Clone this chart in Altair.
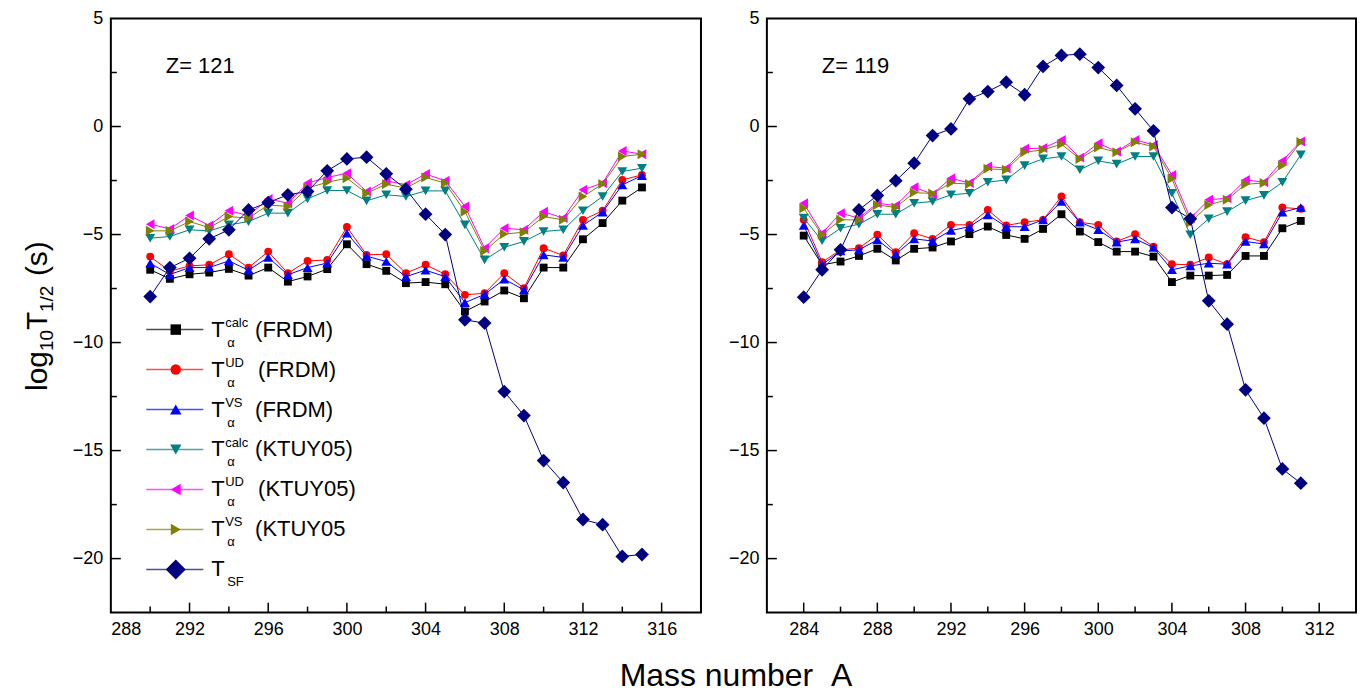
import altair as alt
import pandas as pd

FONT = "Liberation Sans"

# ---------------- data ----------------
A121 = list(range(290, 316))
calc_FRDM_121 = [-6.63, -7.05, -6.84, -6.76, -6.59, -6.9, -6.53, -7.18, -6.94, -6.6, -5.45, -6.37, -6.68,
                 -7.25, -7.2, -7.3, -8.56, -8.1, -7.59, -7.95, -6.53, -6.53, -5.22, -4.47, -3.43, -2.82]
UD_FRDM_121 = [-6.02, -6.7, -6.45, -6.4, -5.91, -6.53, -5.79, -6.79, -6.22, -6.18, -4.65, -5.94, -5.91,
               -6.79, -6.4, -6.84, -7.79, -7.72, -6.79, -7.48, -5.63, -5.97, -4.32, -3.9, -2.47, -2.24]
VS_FRDM_121 = [-6.33, -6.85, -6.53, -6.53, -6.22, -6.65, -6.06, -6.86, -6.53, -6.32, -4.94, -6.0, -6.25,
               -6.95, -6.65, -6.95, -8.15, -7.77, -7.07, -7.56, -5.94, -6.06, -4.58, -3.96, -2.7, -2.27]
calc_KTUY_121 = [-5.17, -5.09, -4.78, -4.83, -4.55, -4.4, -4.01, -4.01, -3.35, -2.96, -2.96, -3.44, -3.16,
                 -3.24, -2.98, -2.98, -4.55, -6.17, -5.59, -5.32, -4.86, -4.78, -3.9, -3.24, -2.08, -1.93]
UD_KTUY_121 = [-4.52, -4.74, -4.12, -4.58, -3.9, -4.12, -3.35, -3.55, -2.62, -2.36, -2.16, -3.01, -2.51,
               -2.7, -2.2, -2.51, -3.7, -5.63, -4.71, -4.78, -3.94, -4.24, -2.93, -2.62, -1.13, -1.28]
VS_KTUY_121 = [-4.83, -4.83, -4.4, -4.68, -4.17, -4.24, -3.63, -3.7, -2.85, -2.58, -2.39, -3.09, -2.67,
               -2.85, -2.36, -2.62, -3.94, -5.76, -4.98, -4.89, -4.17, -4.32, -3.24, -2.66, -1.39, -1.28]
SF_121 = [-7.87, -6.53, -6.1, -5.2, -4.78, -3.86, -3.52, -3.16, -3.01, -2.05, -1.5, -1.42, -2.19,
          -2.9, -4.06, -5.0, -8.95, -9.1, -12.27, -13.38, -15.46, -16.48, -18.19, -18.43, -19.9, -19.81]

A119 = list(range(284, 312))
calc_FRDM_119 = [-5.05, -6.4, -6.25, -5.99, -5.66, -6.2, -5.66, -5.6, -5.32, -4.98, -4.63, -5.02, -5.2, -4.74,
                 -4.06, -4.86, -5.35, -5.79, -5.79, -6.02, -7.2, -6.9, -6.9, -6.87, -5.99, -5.99, -4.71, -4.37]
UD_FRDM_119 = [-4.32, -6.28, -5.71, -5.63, -5.01, -5.82, -4.94, -5.2, -4.55, -4.55, -3.86, -4.58, -4.43, -4.32,
               -3.24, -4.43, -4.55, -5.32, -4.98, -5.56, -6.37, -6.4, -6.06, -6.37, -5.12, -5.35, -3.75, -3.81]
VS_FRDM_119 = [-4.58, -6.4, -5.76, -5.71, -5.25, -5.9, -5.2, -5.3, -4.81, -4.64, -4.09, -4.64, -4.64, -4.32,
               -3.47, -4.43, -4.78, -5.35, -5.2, -5.6, -6.63, -6.45, -6.33, -6.37, -5.32, -5.44, -3.97, -3.75]
calc_KTUY_119 = [-4.24, -5.29, -4.71, -4.52, -4.06, -4.06, -3.55, -3.47, -3.16, -3.09, -2.58, -2.47, -1.81, -1.5,
                 -1.39, -2.0, -1.59, -1.74, -1.39, -1.39, -3.09, -5.01, -4.27, -3.94, -3.43, -3.19, -2.58, -1.31]
UD_KTUY_119 = [-3.55, -4.94, -4.01, -4.24, -3.55, -3.66, -2.81, -3.13, -2.39, -2.62, -1.85, -1.93, -1.03, -1.0,
               -0.62, -1.44, -0.77, -1.16, -0.62, -0.85, -2.24, -4.25, -3.39, -3.32, -2.47, -2.58, -1.59, -0.69]
VS_KTUY_119 = [-3.78, -5.01, -4.32, -4.32, -3.63, -3.75, -3.06, -3.1, -2.62, -2.66, -1.96, -2.0, -1.19, -1.08,
               -0.82, -1.5, -0.97, -1.19, -0.73, -0.93, -2.42, -4.45, -3.63, -3.39, -2.67, -2.62, -1.81, -0.72]
SF_119 = [-7.9, -6.63, -5.71, -3.86, -3.19, -2.51, -1.7, -0.42, -0.11, 1.28, 1.62, 2.05, 1.47, 2.78,
          3.29, 3.35, 2.73, 1.9, 0.82, -0.2, -3.75, -4.27, -8.07, -9.15, -12.19, -13.5, -15.85, -16.51]

series = ["calc_FRDM", "UD_FRDM", "VS_FRDM", "calc_KTUY", "UD_KTUY", "VS_KTUY", "SF"]
colors = ["#000000", "#ff0000", "#0000ff", "#008080", "#ff00ff", "#808000", "#000080"]
shapes = ["square", "circle", "triangle-up", "triangle-down", "triangle-left", "triangle-right", "diamond"]
sizes = [62, 62, 100, 100, 100, 100, 190]
legend_sizes = [110, 110, 130, 130, 130, 130, 400]
legend_sup = ["calc", "UD", "VS", "calc", "UD", "VS", ""]
legend_sub = ["α", "α", "α", "α", "α", "α", "SF"]
legend_suffix = ["(FRDM)", "(FRDM)", "(FRDM)", "(KTUY05)", "(KTUY05)", "(KTUY05", ""]
legend_suffix_dx = [44, 47, 44, 44, 47, 44, 0]

Y_DOMAIN = [-22.5, 5]
Y_MAJOR = [-20, -15, -10, -5, 0, 5]
Y_MINOR = [-17.5, -12.5, -7.5, -2.5, 2.5]
H = 595


def long_df(A, cols):
    rows = []
    for s, c, sh, sz, vals in zip(series, colors, shapes, sizes, cols):
        for a, v in zip(A, vals):
            rows.append({"A": a, "v": v, "s": s, "c": c, "sh": sh, "sz": sz})
    return pd.DataFrame(rows)


def panel(df, xdom, xmajor, xminor, zlabel, width, extra=None):
    xs = alt.Scale(domain=xdom, nice=False, zero=False)
    ys = alt.Scale(domain=Y_DOMAIN, nice=False, zero=False)
    X = alt.X("A:Q", scale=xs, title=None, axis=alt.Axis(values=xmajor, format="d"))
    Y = alt.Y("v:Q", scale=ys, title=None, axis=alt.Axis(values=Y_MAJOR, format="d"))
    layers = []
    for s in series:
        base = alt.Chart(df).transform_filter(alt.datum.s == s)
        layers.append(base.mark_line(strokeWidth=1).encode(
            x=X, y=Y, color=alt.Color("c:N", scale=None)))
        layers.append(base.mark_point(filled=True, opacity=1, strokeWidth=0).encode(
            x=X, y=Y, color=alt.Color("c:N", scale=None),
            shape=alt.Shape("sh:N", scale=None), size=alt.Size("sz:Q", scale=None)))
    inner_major = [t for t in xmajor if xdom[0] < t < xdom[1]]
    xt_major = alt.Chart(pd.DataFrame({"A": inner_major})).mark_rule(
        color="black", strokeWidth=1.5).encode(x=alt.X("A:Q", title=None), y=alt.value(H), y2=alt.value(H - 10))
    xt_minor = alt.Chart(pd.DataFrame({"A": xminor})).mark_rule(
        color="black", strokeWidth=1.5).encode(x=alt.X("A:Q", title=None), y=alt.value(H), y2=alt.value(H - 6))
    yt_major = alt.Chart(pd.DataFrame({"v": Y_MAJOR[:-1]})).mark_rule(
        color="black", strokeWidth=1.5).encode(y=alt.Y("v:Q", title=None), x=alt.value(0), x2=alt.value(10))
    yt_minor = alt.Chart(pd.DataFrame({"v": Y_MINOR})).mark_rule(
        color="black", strokeWidth=1.5).encode(y=alt.Y("v:Q", title=None), x=alt.value(0), x2=alt.value(6))
    ztxt = alt.Chart(pd.DataFrame({"t": [zlabel]})).mark_text(
        align="left", baseline="alphabetic", font=FONT, fontSize=22, color="black").encode(
        x=alt.value(55), y=alt.value(55), text="t:N")
    layers += [xt_major, xt_minor, yt_major, yt_minor, ztxt]
    if extra:
        layers += extra
    return alt.layer(*layers).properties(width=width, height=H)


# ---------------- legend (left panel) ----------------
LEG_X0, LEG_X1, LEG_XM, LEG_XT = 289.8, 292.7, 291.3, 293.1
LEG_Y0, LEG_DY = -9.4, 1.85
PX_PER_A = 591 / 30.0
leg = pd.DataFrame({
    "s": series, "c": colors, "sh": shapes, "lsz": legend_sizes,
    "sup": legend_sup, "sub": legend_sub, "suf": legend_suffix,
})
leg["v"] = [LEG_Y0 - LEG_DY * i for i in range(len(series))]
leg["x0"] = LEG_X0
leg["x1"] = LEG_X1
leg["xm"] = LEG_XM
leg["xt"] = LEG_XT
leg["xs"] = [LEG_XT + d / PX_PER_A for d in legend_suffix_dx]
leg["T"] = "T"

legend_layers = [
    alt.Chart(leg).mark_rule(strokeWidth=1.5, opacity=0.7).encode(
        x=alt.X("x0:Q", title=None), x2="x1:Q", y=alt.Y("v:Q", title=None), color=alt.Color("c:N", scale=None)),
    alt.Chart(leg).mark_point(filled=True, opacity=1, strokeWidth=0).encode(
        x=alt.X("xm:Q", title=None), y=alt.Y("v:Q", title=None), color=alt.Color("c:N", scale=None),
        shape=alt.Shape("sh:N", scale=None), size=alt.Size("lsz:Q", scale=None)),
    alt.Chart(leg).mark_text(align="left", baseline="alphabetic", font=FONT, fontSize=22, dy=7,
                             color="black").encode(
        x=alt.X("xt:Q", title=None), y=alt.Y("v:Q", title=None), text="T:N"),
    alt.Chart(leg).mark_text(align="left", baseline="alphabetic", font=FONT, fontSize=13, dx=14, dy=-3,
                             color="black").encode(
        x=alt.X("xt:Q", title=None), y=alt.Y("v:Q", title=None), text="sup:N"),
    alt.Chart(leg).mark_text(align="left", baseline="alphabetic", font=FONT, fontSize=13, dx=16, dy=17,
                             color="black").encode(
        x=alt.X("xt:Q", title=None), y=alt.Y("v:Q", title=None), text="sub:N"),
    alt.Chart(leg).mark_text(align="left", baseline="alphabetic", font=FONT, fontSize=22, dy=7,
                             color="black").encode(
        x=alt.X("xs:Q", title=None), y=alt.Y("v:Q", title=None), text="suf:N"),
]

# ---------------- axis titles as text pieces ----------------
ytitle_pieces = pd.DataFrame({
    "t": ["log", "10", "T", "1/2", "(s)"],
    "fs": [30, 19, 30, 19, 30],
    "py": [373, 333, 312, 294, 258],
    "px": [-64, -58, -64, -58, -64],
})
ytitle_layers = []
for _, r in ytitle_pieces.iterrows():
    ytitle_layers.append(
        alt.Chart(pd.DataFrame({"t": [r["t"]]})).mark_text(
            align="left", baseline="alphabetic", angle=270, font=FONT, fontSize=int(r["fs"]),
            color="black").encode(x=alt.value(int(r["px"])), y=alt.value(int(r["py"])), text="t:N"))

xtitle = alt.Chart(pd.DataFrame({"t": ["Mass number\u00a0\u00a0A"]})).mark_text(
    align="center", baseline="alphabetic", font=FONT, fontSize=32, color="black").encode(
    x=alt.value(626), y=alt.value(668), text="t:N")

left = panel(long_df(A121, [calc_FRDM_121, UD_FRDM_121, VS_FRDM_121, calc_KTUY_121, UD_KTUY_121,
                            VS_KTUY_121, SF_121]),
             [288, 318], list(range(288, 317, 4)), list(range(290, 317, 4)), "Z= 121", 591,
             extra=legend_layers + ytitle_layers + [xtitle])
right = panel(long_df(A119, [calc_FRDM_119, UD_FRDM_119, VS_FRDM_119, calc_KTUY_119, UD_KTUY_119,
                             VS_KTUY_119, SF_119]),
              [282, 314], list(range(284, 313, 4)), list(range(286, 313, 4)), "Z= 119", 590)

chart = alt.hconcat(left, right, spacing=66, bounds="flush").properties(
    padding={"left": 14, "top": 0, "right": 5, "bottom": 0}
).configure(background="white").configure_view(
    stroke="black", strokeWidth=2
).configure_axis(
    labelFont=FONT, labelFontSize=18, labelColor="black", ticks=False, domain=False, grid=False,
    labelPadding=8
)

chart.save("out.html", embed_options={"renderer": "svg", "actions": False})
